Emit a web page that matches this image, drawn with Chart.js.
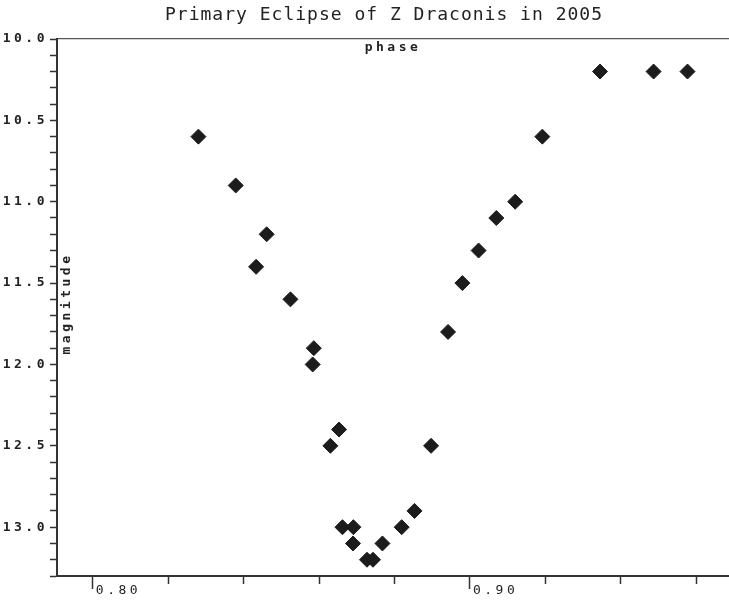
<!DOCTYPE html>
<html>
<head>
<meta charset="utf-8">
<script src="https://cdn.jsdelivr.net/npm/chart.js@4"></script>
<style>
html,body{margin:0;padding:0;background:#fff;}
#wrap{width:729px;height:600px;}
</style>
</head>
<body>
<div id="wrap"><canvas id="c" width="729" height="600"></canvas></div>
<script>
// ---- data ----
const phase = [0.8280, 0.8379, 0.8461, 0.8433, 0.8524, 0.8586, 0.8583, 0.8653, 0.8630,
               0.8662, 0.8691, 0.8690, 0.8727, 0.8743, 0.8768, 0.8819, 0.8853, 0.8897,
               0.8942, 0.8980, 0.9023, 0.9070, 0.9120, 0.9192, 0.9345, 0.9487, 0.9577];
const magnitude = [10.6, 10.9, 11.2, 11.4, 11.6, 11.9, 12.0, 12.4, 12.5,
                   13.0, 13.0, 13.1, 13.2, 13.2, 13.1, 13.0, 12.9, 12.5,
                   11.8, 11.5, 11.3, 11.1, 11.0, 10.6, 10.2, 10.2, 10.2];
const xTickValues = [0.80, 0.82, 0.84, 0.86, 0.88, 0.90, 0.92, 0.94, 0.96];
const xTickLabels = ['0.80', '0.90'];
const yTickLabels = ['10.0', '10.5', '11.0', '11.5', '12.0', '12.5', '13.0'];
const chartTitle = 'Primary Eclipse of Z Draconis in 2005';
const xTitle = 'phase';
const yTitle = 'magnitude';

const MONO = '"DejaVu Sans Mono", "Liberation Mono", monospace';
const INK = '#222222';
const AXIS = '#333333';

const isMajorX = v => xTickLabels.includes(v.toFixed(2));

const textPlugin = {
  id: 'textPlugin',
  beforeDraw(chart) {
    const ctx = chart.ctx;
    ctx.letterSpacing = '3.5px';
    const tb = chart.titleBlock;
    if (tb && !tb._wrapped) {
      const orig = tb.draw.bind(tb);
      tb.draw = function (area) {
        const prev = ctx.letterSpacing;
        ctx.save();
        ctx.letterSpacing = '1px';
        ctx.translate(-9, 0);
        orig(area);
        ctx.restore();
        ctx.letterSpacing = prev;
      };
      tb._wrapped = true;
    }
  },
  afterDraw(chart) {
    const {ctx, chartArea: a} = chart;
    ctx.save();
    ctx.letterSpacing = '3.5px';
    ctx.fillStyle = INK;
    ctx.font = 'bold 13px ' + MONO;
    ctx.textAlign = 'center';
    ctx.textBaseline = 'middle';
    ctx.fillText(xTitle, (a.left + a.right) / 2, a.top + 9);
    ctx.translate(a.left + 10, (a.top + a.bottom) / 2 - 4);
    ctx.rotate(-Math.PI / 2);
    ctx.fillText(yTitle, 0, 0);
    ctx.restore();
  }
};

new Chart(document.getElementById('c'), {
  type: 'scatter',
  data: {
    datasets: [{
      label: 'Z Draconis',
      data: phase.map((x, i) => ({x: x, y: magnitude[i]})),
      pointStyle: 'rectRot',
      pointRadius: 7.5,
      pointHoverRadius: 7.5,
      borderWidth: 1,
      backgroundColor: '#1c1c1c',
      borderColor: '#1c1c1c',
      showLine: false
    }]
  },
  options: {
    responsive: false,
    animation: false,
    devicePixelRatio: 1,
    layout: {padding: 0, autoPadding: false},
    plugins: {
      legend: {display: false},
      tooltip: {enabled: false},
      title: {
        display: true,
        text: chartTitle,
        fullSize: false,
        color: INK,
        font: {family: MONO, size: 18, weight: 'normal', lineHeight: 1.2},
        padding: {top: 4.4, bottom: 13}
      }
    },
    scales: {
      x: {
        type: 'linear',
        position: 'bottom',
        min: 0.7905,
        max: 0.9687,
        afterBuildTicks: s => { s.ticks = xTickValues.map(v => ({value: v})); },
        afterFit: s => { s.paddingLeft = 0; s.paddingRight = 0; s.height = 24; },
        ticks: {
          autoSkip: false,
          maxRotation: 0,
          align: 'start',
          labelOffset: 3,
          padding: -6,
          color: INK,
          font: {family: MONO, size: 13},
          callback: v => (isMajorX(v) ? v.toFixed(2) : '')
        },
        grid: {
          drawOnChartArea: false,
          drawTicks: true,
          tickLength: 13,
          tickColor: AXIS,
          tickWidth: 1.5,
          tickBorderDash: c => (c.tick && isMajorX(c.tick.value) ? [] : [7, 40])
        },
        border: {display: true, color: AXIS, width: 2}
      },
      x2: {
        type: 'linear',
        position: 'top',
        min: 0.7905,
        max: 0.9687,
        afterFit: s => { s.paddingLeft = 0; s.paddingRight = 0; },
        ticks: {display: false},
        grid: {drawOnChartArea: false, drawTicks: false},
        border: {display: true, color: '#555555', width: 1.2}
      },
      y: {
        type: 'linear',
        position: 'left',
        reverse: true,
        min: 10,
        max: 13.3,
        afterFit: s => { s.width = 57; },
        ticks: {
          stepSize: 0.1,
          autoSkip: false,
          padding: 2,
          color: INK,
          font: {family: MONO, size: 13, weight: 'bold'},
          callback: v => { const s = v.toFixed(1); return yTickLabels.includes(s) ? s : ''; }
        },
        grid: {
          drawOnChartArea: false,
          drawTicks: true,
          tickLength: 7,
          tickColor: AXIS,
          tickWidth: 1.5
        },
        border: {display: true, color: AXIS, width: 2}
      }
    }
  },
  plugins: [textPlugin]
});
</script>
</body>
</html>
